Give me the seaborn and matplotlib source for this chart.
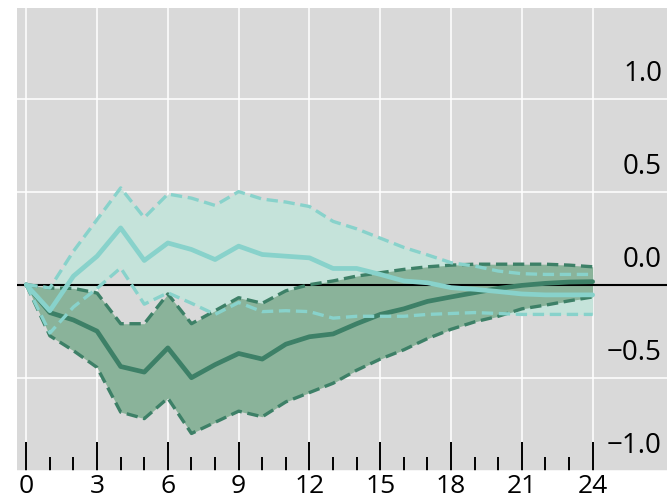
import numpy as np
import pandas as pd
import matplotlib
matplotlib.use("Agg")
import matplotlib.pyplot as plt
import matplotlib.transforms as mtransforms
import seaborn as sns

# ---- data ----
horizon = list(range(25))
dark_mid = [0, -0.15, -0.19, -0.25, -0.44, -0.47, -0.34, -0.50, -0.43, -0.37, -0.40, -0.32,
            -0.28, -0.265, -0.21, -0.16, -0.13, -0.09, -0.066, -0.043, -0.02, -0.004, 0.007, 0.014, 0.016]
dark_hi = [0, -0.018, -0.02, -0.045, -0.21, -0.21, -0.05, -0.21, -0.14, -0.07, -0.10, -0.033,
           0.0, 0.02, 0.046, 0.064, 0.082, 0.096, 0.105, 0.11, 0.11, 0.11, 0.11, 0.105, 0.096]
dark_lo = [0, -0.275, -0.355, -0.445, -0.685, -0.72, -0.61, -0.80, -0.74, -0.68, -0.71, -0.63,
           -0.58, -0.53, -0.46, -0.40, -0.35, -0.29, -0.24, -0.20, -0.17, -0.13, -0.11, -0.087, -0.066]
teal_mid = [0, -0.14, 0.046, 0.153, 0.305, 0.13, 0.224, 0.189, 0.135, 0.207, 0.162, 0.153,
            0.144, 0.087, 0.087, 0.055, 0.02, 0.01, -0.016, -0.025, -0.037, -0.05, -0.055, -0.055, -0.055]
teal_hi = [0, -0.018, 0.18, 0.35, 0.52, 0.36, 0.487, 0.465, 0.426, 0.50, 0.46, 0.444,
           0.42, 0.34, 0.30, 0.25, 0.20, 0.16, 0.118, 0.10, 0.073, 0.059, 0.055, 0.055, 0.055]
teal_lo = [0, -0.26, -0.12, -0.02, 0.09, -0.105, -0.044, -0.10, -0.16, -0.096, -0.145, -0.14,
           -0.145, -0.18, -0.17, -0.17, -0.17, -0.16, -0.155, -0.15, -0.155, -0.16, -0.16, -0.16, -0.16]

x_ticks = [0, 3, 6, 9, 12, 15, 18, 21, 24]
y_ticks = [-1.0, -0.5, 0.0, 0.5, 1.0]
y_labels = ["\u22121.0", "\u22120.5", "0.0", "0.5", "1.0"]

df = pd.DataFrame({"h": horizon, "dark_mid": dark_mid, "dark_hi": dark_hi, "dark_lo": dark_lo,
                   "teal_mid": teal_mid, "teal_hi": teal_hi, "teal_lo": teal_lo})

# ---- style ----
BG = "#d9d9d9"
DARK_LINE = "#3d8067"
DARK_FILL = "#8ab39a"
TEAL_LINE = "#88d2cb"
TEAL_FILL = "#c5e3da"

sns.set_theme(style="darkgrid", rc={"axes.facecolor": BG, "grid.color": "white",
                                    "grid.linewidth": 1.1})
plt.rcParams["font.family"] = ["Open Sans", "DejaVu Sans"]

fig = plt.figure(figsize=(6.67, 5.02), dpi=100)
ax = fig.add_axes([17.3 / 667, 30.3 / 502, 1 - 17.3 / 667, (471.7 - 9) / 502])

dash = (0, (3.4, 1.7))

# fills
ax.fill_between(df["h"], df["teal_lo"], df["teal_hi"], color=TEAL_FILL, lw=0, zorder=1)
ax.fill_between(df["h"], df["dark_lo"], df["dark_hi"], color=DARK_FILL, lw=0, zorder=1.5)
ax.axhline(0, color="black", lw=1.5, zorder=2)

# dark lines
sns.lineplot(data=df, x="h", y="dark_hi", ax=ax, color=DARK_LINE, lw=2.4, linestyle=dash, zorder=3)
sns.lineplot(data=df, x="h", y="dark_lo", ax=ax, color=DARK_LINE, lw=2.4, linestyle=dash, zorder=3)
sns.lineplot(data=df, x="h", y="dark_mid", ax=ax, color=DARK_LINE, lw=3.4, zorder=3)
# teal lines
sns.lineplot(data=df, x="h", y="teal_hi", ax=ax, color=TEAL_LINE, lw=2.4, linestyle=dash, zorder=4)
sns.lineplot(data=df, x="h", y="teal_lo", ax=ax, color=TEAL_LINE, lw=2.4, linestyle=dash, zorder=4)
sns.lineplot(data=df, x="h", y="teal_mid", ax=ax, color=TEAL_LINE, lw=3.4, zorder=4)

ax.set_xlim(-0.38, 27.15)
ax.set_ylim(-0.99, 1.487)
ax.set_xlabel("")
ax.set_ylabel("")

ax.set_xticks(x_ticks)
ax.set_xticklabels([str(v) for v in x_ticks], fontsize=19)
ax.set_xticks(horizon, minor=True)
ax.tick_params(axis="x", which="major", direction="in", length=21, width=1.4,
               color="black", bottom=True, pad=2, labelcolor="black")
ax.tick_params(axis="x", which="minor", direction="in", length=10, width=1.4,
               color="black", bottom=True)
ax.grid(True, which="major", axis="both")
ax.grid(False, which="minor")

ax.set_yticks(y_ticks)
ax.set_yticklabels([])
ax.tick_params(axis="y", length=0)

offset = mtransforms.ScaledTranslation(-5 / 100, 18.4 / 100, fig.dpi_scale_trans)
trans = mtransforms.blended_transform_factory(ax.transAxes, ax.transData) + offset
for val, lab in zip(y_ticks, y_labels):
    ax.text(1.0, val, lab, transform=trans, ha="right", va="baseline",
            fontsize=20, color="black", zorder=5)

for s in ax.spines.values():
    s.set_visible(False)

fig.savefig("out.png", dpi=100, facecolor="white")
